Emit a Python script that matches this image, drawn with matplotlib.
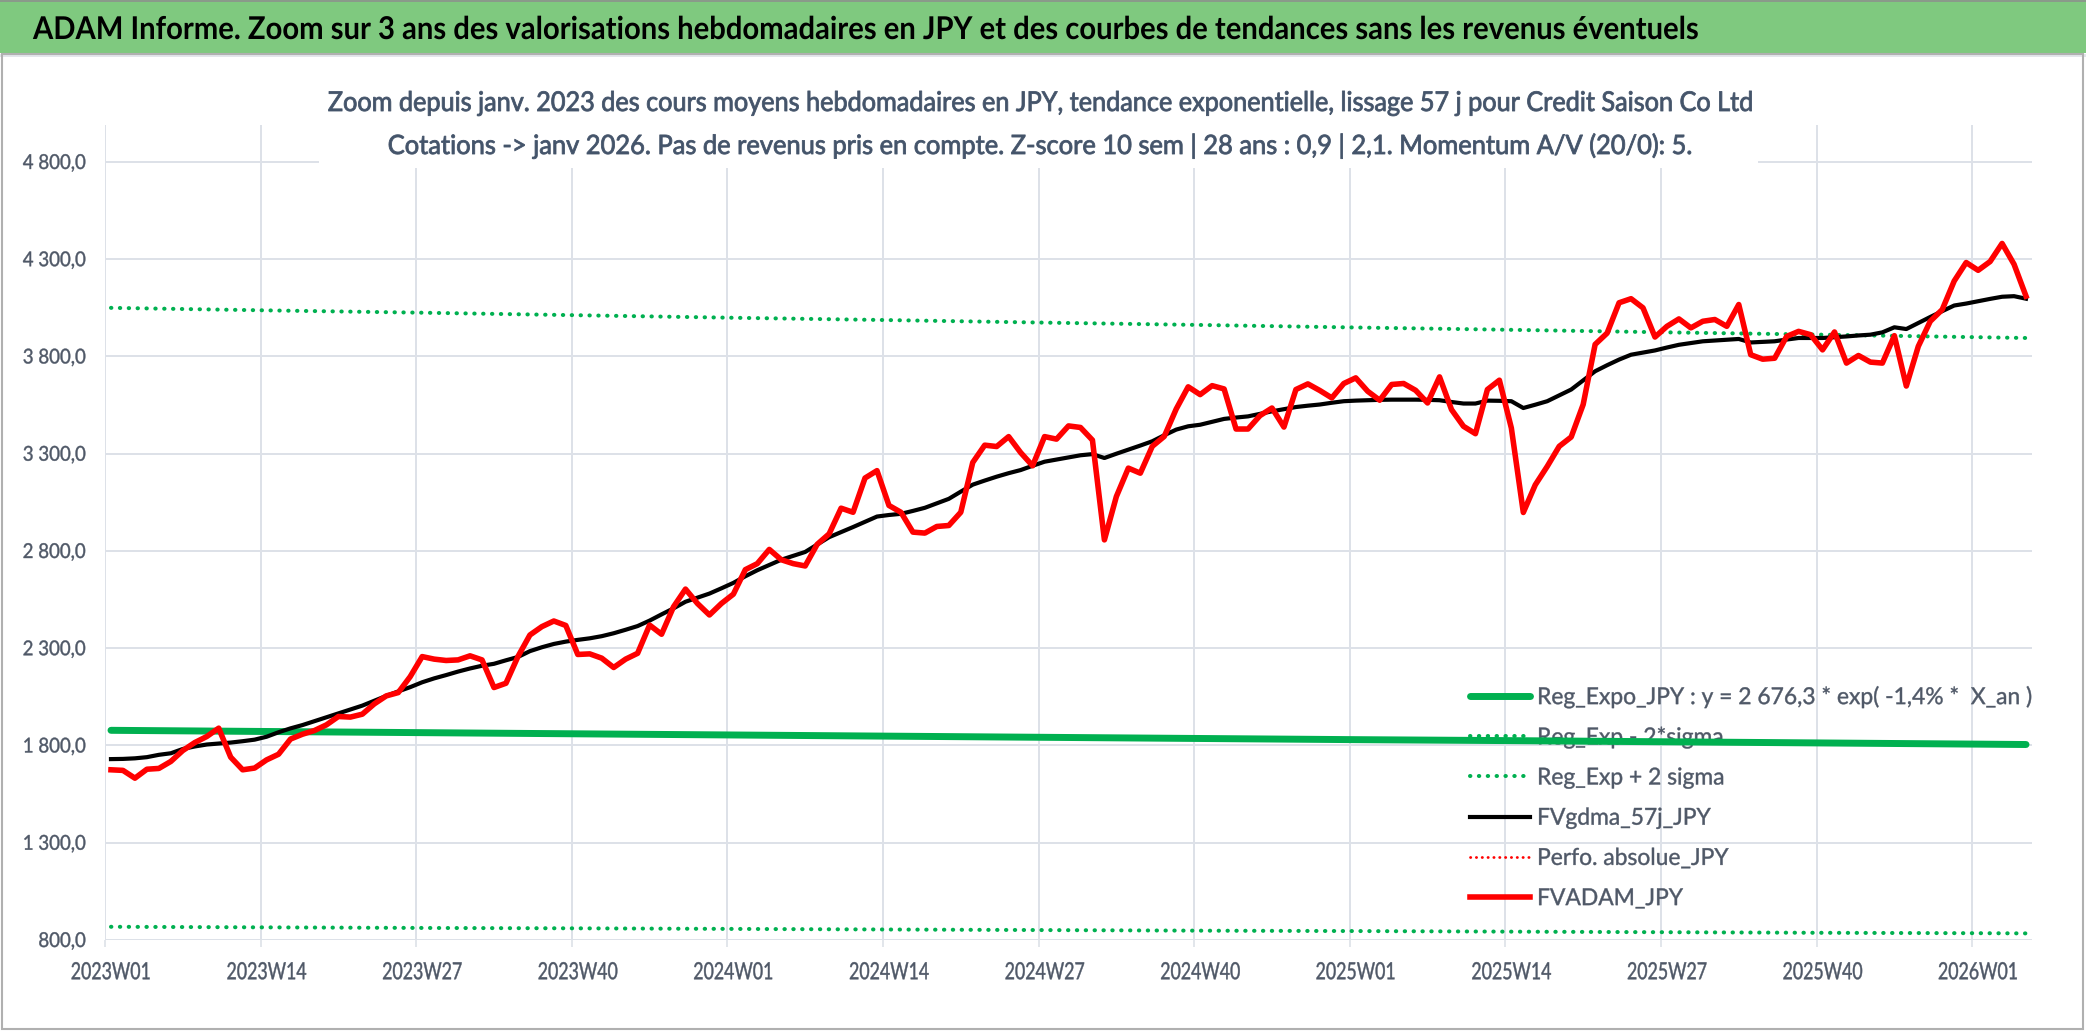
import numpy as np
import matplotlib
matplotlib.use("Agg")
import matplotlib.pyplot as plt
from matplotlib import font_manager
from matplotlib.font_manager import FontProperties
from matplotlib.patches import Rectangle
from matplotlib.patheffects import AbstractPathEffect
from matplotlib.textpath import TextPath
from matplotlib.ticker import FuncFormatter
from matplotlib.transforms import Affine2D

# weekly categories 2023W01 .. 2026W05
weeks = [f"{y}W{w:02d}" for y in (2023, 2024, 2025) for w in range(1, 53)] + \
        [f"2026W{w:02d}" for w in range(1, 6)]

# FVADAM_JPY, weekly average price (red)
fvadam = [1675, 1672, 1632, 1678, 1682, 1718, 1774, 1815, 1846, 1889,
          1740, 1675, 1684, 1726, 1755, 1833, 1858, 1877, 1906, 1949,
          1946, 1961, 2014, 2055, 2072, 2154, 2257, 2244, 2237, 2240,
          2261, 2240, 2098, 2120, 2257, 2368, 2411, 2440, 2417, 2268,
          2271, 2249, 2201, 2244, 2274, 2419, 2372, 2513, 2604, 2530,
          2471, 2530, 2578, 2704, 2735, 2808, 2755, 2735, 2723, 2834,
          2888, 3020, 2999, 3175, 3213, 3034, 2999, 2897, 2892, 2926,
          2931, 2999, 3255, 3344, 3337, 3388, 3306, 3238, 3388, 3375,
          3443, 3435, 3370, 2857, 3080, 3226, 3200, 3338, 3389, 3530,
          3644, 3604, 3650, 3633, 3427, 3427, 3496, 3535, 3437, 3630,
          3659, 3625, 3587, 3661, 3690, 3621, 3575, 3656, 3661, 3626,
          3561, 3695, 3527, 3441, 3403, 3630, 3678, 3432, 2998, 3140,
          3235, 3338, 3386, 3553, 3862, 3920, 4076, 4097, 4050, 3900,
          3955, 3993, 3947, 3981, 3990, 3955, 4067, 3809, 3786, 3791,
          3903, 3929, 3912, 3834, 3926, 3766, 3805, 3771, 3766, 3907,
          3648, 3852, 3981, 4041, 4188, 4283, 4243, 4288, 4381, 4274,
          4110]

# FVgdma_57j_JPY, smoothed (black)
fvgdma = [1730, 1731, 1734, 1740, 1752, 1760, 1782, 1795, 1805, 1810,
          1815, 1822, 1830, 1845, 1868, 1888, 1905, 1925, 1945, 1965,
          1985, 2005, 2030, 2055, 2078, 2100, 2125, 2145, 2162, 2180,
          2196, 2210, 2220, 2238, 2255, 2285, 2305, 2322, 2334, 2343,
          2351, 2362, 2377, 2395, 2414, 2442, 2474, 2505, 2539, 2560,
          2581, 2608, 2636, 2670, 2701, 2728, 2755, 2775, 2795, 2833,
          2871, 2897, 2923, 2950, 2977, 2985, 2991, 3006, 3022, 3045,
          3068, 3105, 3141, 3162, 3182, 3200, 3216, 3238, 3259, 3270,
          3281, 3292, 3298, 3278, 3300, 3321, 3342, 3364, 3395, 3424,
          3441, 3449, 3464, 3479, 3486, 3492, 3505, 3518, 3529, 3540,
          3547, 3553, 3562, 3570, 3573, 3575, 3577, 3578, 3578, 3578,
          3577, 3575, 3566, 3558, 3558, 3573, 3572, 3570, 3535, 3552,
          3570, 3600, 3630, 3677, 3724, 3755, 3784, 3809, 3820, 3831,
          3846, 3860, 3869, 3878, 3882, 3886, 3890, 3872, 3875, 3878,
          3887, 3895, 3895, 3895, 3899, 3903, 3908, 3912, 3924, 3950,
          3941, 3972, 4003, 4033, 4062, 4072, 4084, 4096, 4107, 4110,
          4097]

# regression + / - 2 sigma, read at every 13th week and at the last week
reg_idx = [0, 13, 26, 39, 52, 65, 78, 91, 104, 117, 130, 143, 156, 160]
reg_expo = [1878, 1872, 1866, 1860, 1854, 1848, 1842, 1836, 1830, 1825, 1819, 1813, 1807, 1805]
reg_plus = [4050, 4037, 4025, 4012, 3999, 3987, 3974, 3962, 3949, 3937, 3924, 3912, 3899, 3895]
reg_minus = [868, 865, 862, 860, 857, 854, 851, 848, 846, 843, 840, 837, 835, 834]

y_ticks = [800, 1300, 1800, 2300, 2800, 3300, 3800, 4300, 4800]
label_weeks = [0, 13, 26, 39, 52, 65, 78, 91, 104, 117, 130, 143, 156]

title = ("ADAM Informe. Zoom sur 3 ans des valorisations hebdomadaires en JPY "
         "et des courbes de tendances sans les revenus éventuels")
sub1 = ("Zoom depuis janv. 2023 des cours moyens hebdomadaires en JPY, tendance "
        "exponentielle, lissage 57 j pour Credit Saison Co Ltd")
sub2 = ("Cotations -> janv 2026. Pas de revenus pris en compte. Z-score 10 sem | "
        "28 ans : 0,9 | 2,1. Momentum A/V (20/0): 5.")
leg_long = "Reg_Expo_JPY : y = 2 676,3 * exp( -1,4% *  X_an )"

names = {f.name for f in font_manager.fontManager.ttflist}
FONT = next((f for f in ["Lato", "Liberation Sans", "DejaVu Sans"] if f in names), "DejaVu Sans")
plt.rcParams["font.family"] = [FONT, "DejaVu Sans"]

GRID = "#DDE1E8"
TXT = "#4F5867"
SUB = "#44546A"
GREEN = "#00B050"
W, H = 2086, 1031


class Squeeze(AbstractPathEffect):
    """draw text narrower (Calibri-like proportions) around its anchor, optional thin outline"""

    def __init__(self, sx, anchor="center", stroke=0.0):
        super().__init__()
        self.sx = sx
        self.anchor = anchor
        self.stroke = stroke

    def draw_path(self, renderer, gc, tpath, affine, rgbFace=None):
        bb = tpath.get_extents(affine)
        x0 = {"left": bb.x0, "center": 0.5 * (bb.x0 + bb.x1), "right": bb.x1}[self.anchor]
        t = affine + Affine2D().translate(-x0, 0).scale(self.sx, 1).translate(x0, 0)
        if self.stroke and rgbFace is not None:
            gc0 = renderer.new_gc()
            gc0.copy_properties(gc)
            gc0.set_linewidth(self.stroke)
            gc0.set_foreground(rgbFace)
            gc0.set_joinstyle("round")
            renderer.draw_path(gc0, tpath, t, rgbFace)
            gc0.restore()
        else:
            renderer.draw_path(gc, tpath, t, rgbFace)


def text_fit(s, ref, ink_h, width_px, weight="normal"):
    # font size (pt) so that `ref` has ink height ink_h px, and x squeeze so `s` is width_px wide
    prop = FontProperties(family=FONT, weight=weight)
    h = TextPath((0, 0), ref, size=100, prop=prop).get_extents().height
    size_px = 100 * ink_h / h
    w = TextPath((0, 0), s, size=size_px, prop=prop).get_extents().width
    return size_px * 72 / 100, width_px / w


fig = plt.figure(figsize=(W / 100, H / 100), dpi=100)
renderer = fig.canvas.get_renderer()

# green header band and chart frame
fig.patches.append(Rectangle((0, 1 - 53 / H), 1, 53 / H, transform=fig.transFigure,
                             facecolor="#7FC97F", edgecolor="none", zorder=0))
fig.patches.append(Rectangle((0, 1 - 2 / H), 1, 2 / H, transform=fig.transFigure,
                             facecolor="#8A9A8A", edgecolor="none", zorder=0))
fig.patches.append(Rectangle((0, 1 - 57 / H), 1, 3 / H, transform=fig.transFigure,
                             facecolor="#E3E6EB", edgecolor="none", zorder=0))
fig.patches.append(Rectangle((0.0008, 0.002), 0.998, 0.946, transform=fig.transFigure,
                             fill=False, edgecolor="#B0B0B0", lw=1.5, zorder=0))

fs, sx = text_fit(title, "ADAM", 22.7, 1665, "bold")
fig.text(33 / W, 1 - 39 / H, title, fontsize=fs, weight="bold", color="black",
         ha="left", va="baseline", path_effects=[Squeeze(sx, "left")])

ax = fig.add_axes([105 / W, 1 - 940 / H, (2032 - 105) / W, (940 - 125) / H])
x = np.arange(len(fvadam)) + 0.5
xr = np.array(reg_idx) + 0.5
dots = (0, (0.1, 2.1))

ax.plot(xr, reg_expo, color=GREEN, lw=5.0, solid_capstyle="round", zorder=3, label=leg_long)
ax.plot(xr, reg_minus, color=GREEN, lw=2.9, linestyle=dots, dash_capstyle="round",
        zorder=3, label="Reg_Exp - 2*sigma")
ax.plot(xr, reg_plus, color=GREEN, lw=2.9, linestyle=dots, dash_capstyle="round",
        zorder=3, label="Reg_Exp + 2 sigma")
ax.plot(x, fvgdma, color="black", lw=3.0, solid_joinstyle="round", zorder=4,
        label="FVgdma_57j_JPY")
ax.plot([], [], color="#FF0000", lw=2.0, linestyle=(0, (0.1, 2.0)), dash_capstyle="round",
        label="Perfo. absolue_JPY")
ax.plot(x, fvadam, color="#FF0000", lw=4.0, solid_joinstyle="round", zorder=5,
        label="FVADAM_JPY")

ax.set_xlim(0, len(fvadam))
ax.set_ylim(800, 4990)
for s in ax.spines.values():
    s.set_visible(False)
ax.set_axisbelow(True)
ax.grid(True, which="major", color=GRID, lw=1.4)

yfs, ysx = text_fit("800,0", "800", 15, 46)
ax.set_yticks(y_ticks)
ax.yaxis.set_major_formatter(FuncFormatter(
    lambda v, p: f"{v:,.1f}".replace(",", " ").replace(".", ",")))
ax.tick_params(axis="y", length=0, pad=13.7, colors=TXT, labelsize=yfs)
for t in ax.get_yticklabels():
    t.set_path_effects([Squeeze(ysx, "right", 0.3)])

xfs, xsx = text_fit("2023W01", "2023W01", 17.3, 78)
ax.set_xticks(label_weeks)
ax.set_xticks(np.array(label_weeks) + 0.5, minor=True)
ax.set_xticklabels([weeks[i] for i in label_weeks], minor=True)
ax.tick_params(axis="x", which="major", length=5, width=1.2, color=GRID, labelbottom=False)
ax.tick_params(axis="x", which="minor", length=0, pad=16, labelcolor=TXT, labelsize=xfs)
for t in ax.get_xticklabels(minor=True):
    t.set_path_effects([Squeeze(xsx, "center", 0.3)])

# white box behind the chart title
fig.patches.append(Rectangle((319 / W, 1 - 168 / H), (1758 - 319) / W, (168 - 60) / H,
                             transform=fig.transFigure, facecolor="white",
                             edgecolor="none", zorder=1))
fs1, sx1 = text_fit(sub1, "Z", 19.5, 1423)
fig.text(1040 / W, 1 - 111 / H, sub1, fontsize=fs1, color=SUB, ha="center",
         va="baseline", zorder=2, path_effects=[Squeeze(sx1, "center", 0.6)])
fs2, sx2 = text_fit(sub2, "C", 19.5, 1302)
fig.text(1041 / W, 1 - 154 / H, sub2, fontsize=fs2, color=SUB, ha="center",
         va="baseline", zorder=2, path_effects=[Squeeze(sx2, "center", 0.6)])

# legend: rows about 40 px apart, first baseline at y = 703 px
lfs, lsx = text_fit(leg_long, "R", 16.7, 492)
fs_px = lfs * 100 / 72
probe = fig.text(0, 0.5, "Reg_Exp", fontsize=lfs, va="baseline")
pb = probe.get_window_extent(renderer)
text_h = pb.height
ascent = pb.y1 - 0.5 * H
probe.remove()
leg = ax.legend(loc="upper left", bbox_to_anchor=(1470 / W, 1 - (703 - ascent) / H),
                bbox_transform=fig.transFigure, frameon=False, fontsize=lfs,
                labelcolor=TXT, handlelength=60 / fs_px, handletextpad=7 / fs_px,
                labelspacing=(40.2 - text_h) / fs_px, borderpad=0, borderaxespad=0)
leg.set_zorder(2.5)
for t in leg.get_texts():
    t.set_path_effects([Squeeze(lsx, "left", 0.3)])

fig.savefig("out.png", dpi=100)
